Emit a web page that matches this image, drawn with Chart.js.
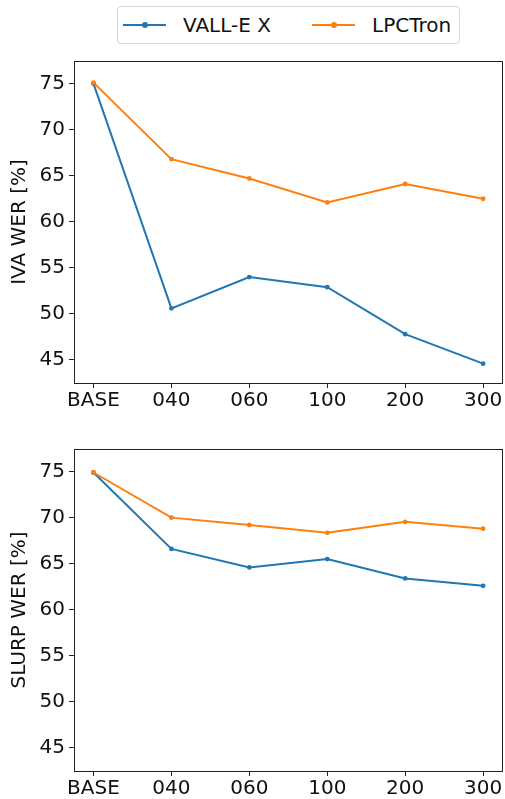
<!DOCTYPE html>
<html>
<head>
<meta charset="utf-8">
<script src="https://cdn.jsdelivr.net/npm/chart.js@4"></script>
<style>
  html, body { margin: 0; padding: 0; background: #fff; }
  body { width: 505px; height: 799px; position: relative; overflow: hidden; font-family: 'DejaVu Sans', sans-serif; }
  .panel { position: absolute; left: 0; width: 505px; height: 360px; }
  #legend { position: absolute; left: 117px; top: 6px; width: 341px; height: 36px; border: 1px solid #d6d6d6; border-radius: 4px; }
  .item { position: absolute; top: 0; height: 36px; line-height: 36px; font-size: 20px; color: #111; }
  .swatch { position: absolute; top: 17px; width: 43px; height: 2px; }
  .dot { position: absolute; top: -2px; left: 19px; width: 6px; height: 6px; border-radius: 50%; }
</style>
</head>
<body>
<div id="legend"></div>
<div class="panel" style="top:50px"><canvas id="chart-iva"></canvas></div>
<div class="panel" style="top:438px"><canvas id="chart-slurp"></canvas></div>
<script>
(function () {
  'use strict';

  // --- Data ---
  var categories = ['BASE', '040', '060', '100', '200', '300'];
  var yTicks = [45, 50, 55, 60, 65, 70, 75];

  var ivaVallex = [75.0, 50.6, 54.0, 52.9, 47.8, 44.6];
  var ivaLpctron = [75.1, 66.8, 64.7, 62.1, 64.1, 62.5];

  var slurpVallex = [74.9, 66.6, 64.6, 65.5, 63.4, 62.6];
  var slurpLpctron = [74.9, 70.0, 69.2, 68.35, 69.55, 68.8];

  var seriesNames = ['VALL-E X', 'LPCTron'];
  var colors = ['#1f77b4', '#ff7f0e'];

  var FONT = "'DejaVu Sans', sans-serif";

  // --- Legend (HTML, from the series names) ---
  var legendEl = document.getElementById('legend');
  var legendX = [5, 194];
  seriesNames.forEach(function (name, i) {
    var sw = document.createElement('div');
    sw.className = 'swatch';
    sw.style.left = legendX[i] + 'px';
    sw.style.background = colors[i];
    var dot = document.createElement('div');
    dot.className = 'dot';
    dot.style.background = colors[i];
    sw.appendChild(dot);
    legendEl.appendChild(sw);
    var lab = document.createElement('div');
    lab.className = 'item';
    lab.style.left = (legendX[i] + 60) + 'px';
    lab.textContent = name;
    legendEl.appendChild(lab);
  });

  // --- Full box around plot area (matplotlib spines) ---
  var frame = {
    id: 'frame',
    afterDatasetsDraw: function (chart) {
      var a = chart.chartArea, ctx = chart.ctx;
      ctx.save();
      ctx.strokeStyle = '#222';
      ctx.lineWidth = 1;
      ctx.strokeRect(Math.round(a.left) + 0.5, Math.round(a.top) + 0.5,
        Math.round(a.right - a.left) - 1, Math.round(a.bottom - a.top));
      ctx.restore();
    }
  };

  function points(values) {
    return values.map(function (v, i) { return { x: i, y: v }; });
  }

  function makeChart(id, title, a, b) {
    var ctx = document.getElementById(id).getContext('2d');
    return new Chart(ctx, {
      type: 'line',
      data: {
        datasets: [a, b].map(function (vals, i) {
          return {
            label: seriesNames[i],
            data: points(vals),
            borderColor: colors[i],
            backgroundColor: colors[i],
            borderWidth: 2,
            pointRadius: 2.4,
            pointHoverRadius: 2.4,
            pointBorderWidth: 0,
            tension: 0,
            fill: false,
            order: 1 - i
          };
        })
      },
      options: {
        responsive: true,
        maintainAspectRatio: false,
        animation: false,
        devicePixelRatio: 1,
        layout: { padding: { top: 11, right: 1, left: 0, bottom: 0 } },
        plugins: { legend: { display: false }, tooltip: { enabled: false } },
        scales: {
          x: {
            type: 'linear',
            min: -0.25,
            max: 5.25,
            afterBuildTicks: function (scale) {
              scale.ticks = categories.map(function (c, i) { return { value: i }; });
            },
            afterFit: function (scale) {
              scale.height = 27;
              scale.paddingLeft = 0;
              scale.paddingRight = 0;
            },
            grid: { display: true, drawOnChartArea: false, drawTicks: true, tickLength: 5, tickColor: '#222', color: '#222' },
            border: { display: false },
            ticks: {
              color: '#111',
              font: { family: FONT, size: 20 },
              padding: 1,
              maxRotation: 0,
              autoSkip: false,
              callback: function (v) { return categories[v]; }
            }
          },
          y: {
            min: 42.5,
            max: 77.45,
            afterBuildTicks: function (scale) {
              scale.ticks = yTicks.map(function (v) { return { value: v }; });
            },
            afterFit: function (scale) {
              scale.width = 74;
              scale.paddingTop = 0;
              scale.paddingBottom = 0;
            },
            grid: { display: true, drawOnChartArea: false, drawTicks: true, tickLength: 5, tickColor: '#222', color: '#222' },
            border: { display: false },
            title: {
              display: true,
              text: title,
              color: '#111',
              font: { family: FONT, size: 20, lineHeight: 1.2 },
              padding: { top: 8, bottom: 0 }
            },
            ticks: {
              color: '#111',
              font: { family: FONT, size: 20 },
              padding: 4
            }
          }
        }
      },
      plugins: [frame]
    });
  }

  makeChart('chart-iva', 'IVA WER [%]', ivaVallex, ivaLpctron);
  makeChart('chart-slurp', 'SLURP WER [%]', slurpVallex, slurpLpctron);
})();
</script>
</body>
</html>
